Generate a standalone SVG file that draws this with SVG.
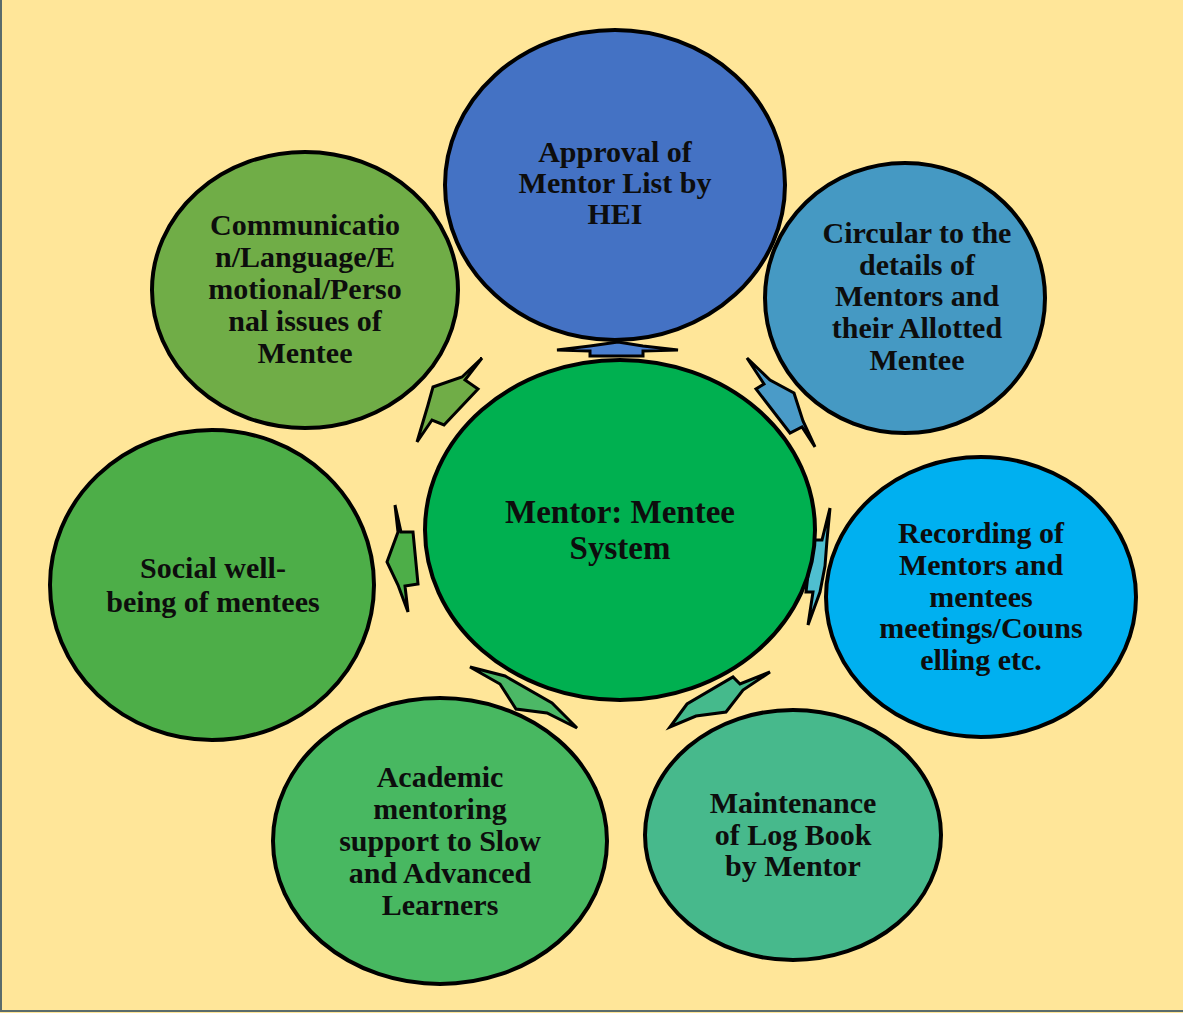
<svg xmlns="http://www.w3.org/2000/svg" width="1183" height="1013" viewBox="0 0 1183 1013">
<style>
.c{stroke:#000;stroke-width:4}
.a{stroke:#000;stroke-width:3;stroke-linejoin:miter;stroke-miterlimit:4}
.t{font-family:"Liberation Serif","Times New Roman",serif;font-weight:bold;font-size:30px;fill:#0d0d0d;text-anchor:middle}
.tc{font-size:33px}
</style>
<rect x="0" y="0" width="1183" height="1013" fill="#FFE699"/>
<path d="M1,0 V1011 H1183" fill="none" stroke="#5a6b6b" stroke-width="2"/>
<g id="connectors">
<polygon class="a" fill="#4A7FD0" points="557,350 590,346 618,342 643,346 678,350 643,351 643,356 590,356 590,351"/>
<polygon class="a" fill="#4A9BC8" points="747,358 770,380 794,393 803,421 815,447 802,427 790,433 756,389 764,384"/>
<polygon class="a" fill="#4FBFD0" points="830,508 827,540 825,566 820,592 808,625 813,592 806,592 812,540 822,540"/>
<polygon class="a" fill="#45BA8C" points="770,672 743,690 726,712 696,716 670,727 687,704 733,677 740,684"/>
<polygon class="a" fill="#4CB866" points="470,667 505,676 552,703 577,728 547,713 516,709 500,684"/>
<polygon class="a" fill="#4DAE48" points="395,505 401,532 413,532 418,584 405,586 408,612 398,585 387,562 398,532"/>
<polygon class="a" fill="#70AD47" points="482,358 465,380 478,389 444,425 432,420 417,442 428,405 433,387 462,377"/>
</g>
<g id="n-top">
<ellipse class="c" cx="615" cy="185" rx="170" ry="155" fill="#4472C4"/>
<text class="t"><tspan x="615" y="162">Approval of</tspan><tspan x="615" y="193">Mentor List by</tspan><tspan x="615" y="224">HEI</tspan></text>
</g>
<g id="n-upper-right">
<ellipse class="c" cx="905" cy="298" rx="140" ry="135" fill="#4599C3"/>
<text class="t"><tspan x="917" y="243">Circular to the</tspan><tspan x="917" y="275">details of</tspan><tspan x="917" y="306">Mentors and</tspan><tspan x="917" y="338">their Allotted</tspan><tspan x="917" y="370">Mentee</tspan></text>
</g>
<g id="n-right">
<ellipse class="c" cx="981" cy="597" rx="155" ry="140" fill="#00B0F0"/>
<text class="t"><tspan x="981" y="543">Recording of</tspan><tspan x="981" y="575">Mentors and</tspan><tspan x="981" y="607">mentees</tspan><tspan x="981" y="638">meetings/Couns</tspan><tspan x="981" y="670">elling etc.</tspan></text>
</g>
<g id="n-lower-right">
<ellipse class="c" cx="793" cy="835" rx="148" ry="125" fill="#47B98C"/>
<text class="t"><tspan x="793" y="813">Maintenance</tspan><tspan x="793" y="845">of Log Book</tspan><tspan x="793" y="876">by Mentor</tspan></text>
</g>
<g id="n-lower-left">
<ellipse class="c" cx="440" cy="841" rx="167" ry="143" fill="#48B861"/>
<text class="t"><tspan x="440" y="787">Academic</tspan><tspan x="440" y="819">mentoring</tspan><tspan x="440" y="851">support to Slow</tspan><tspan x="440" y="883">and Advanced</tspan><tspan x="440" y="915">Learners</tspan></text>
</g>
<g id="n-left">
<ellipse class="c" cx="212" cy="585" rx="162" ry="155" fill="#4DAE48"/>
<text class="t"><tspan x="213" y="578">Social well-</tspan><tspan x="213" y="612">being of mentees</tspan></text>
</g>
<g id="n-upper-left">
<ellipse class="c" cx="305" cy="290" rx="153" ry="138" fill="#70AD47"/>
<text class="t"><tspan x="305" y="235">Communicatio</tspan><tspan x="305" y="267">n/Language/E</tspan><tspan x="305" y="299">motional/Perso</tspan><tspan x="305" y="331">nal issues of</tspan><tspan x="305" y="363">Mentee</tspan></text>
</g>
<g id="n-center">
<ellipse class="c" cx="620" cy="530" rx="195" ry="170" fill="#00B050"/>
<text class="t tc"><tspan x="620" y="523">Mentor: Mentee</tspan><tspan x="620" y="559">System</tspan></text>
</g>
</svg>
